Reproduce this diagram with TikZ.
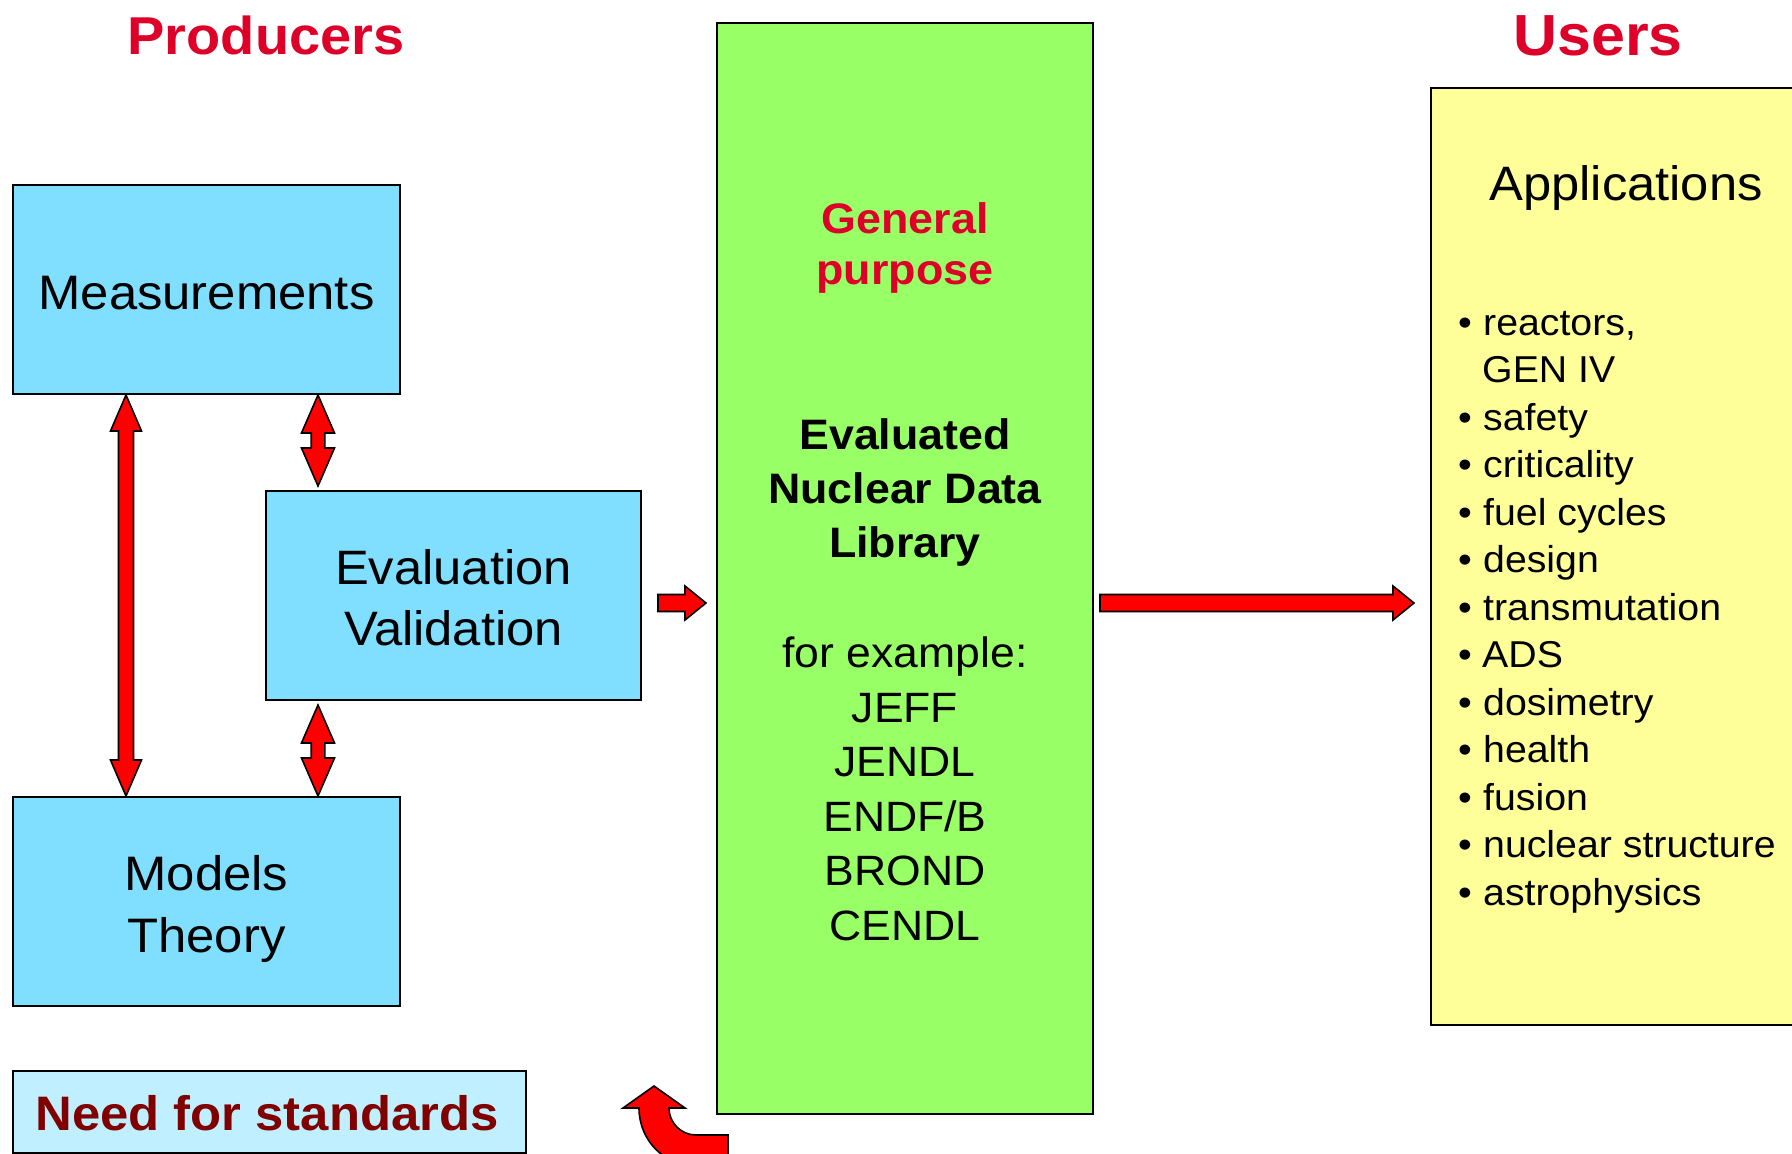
\documentclass[tikz,border=0pt]{standalone}
\usepackage{fontspec}
\setmainfont{Liberation Sans}[FakeStretch=1.05]
\usetikzlibrary{calc}
\definecolor{boxblue}{RGB}{128,223,255}
\definecolor{libgreen}{RGB}{153,255,102}
\definecolor{appyellow}{RGB}{255,255,153}
\definecolor{stdblue}{RGB}{192,239,255}
\definecolor{titlered}{RGB}{221,0,41}
\definecolor{stddark}{RGB}{128,0,0}
\newcommand\myfs[2]{\fontsize{#1}{#2}\selectfont}
% vertical double block arrow: top tip, bottom tip, shaft half, head half, head length
\newcommand\blockV[5]{%
  \path[blockarrow] let \p1=(#1), \p2=(#2) in
  (\x1,\y1) -- (\x1+#4pt,\y1-#5pt) -- (\x1+#3pt,\y1-#5pt) -- (\x1+#3pt,\y2+#5pt)
  -- (\x1+#4pt,\y2+#5pt) -- (\x1,\y2) -- (\x1-#4pt,\y2+#5pt) -- (\x1-#3pt,\y2+#5pt)
  -- (\x1-#3pt,\y1-#5pt) -- (\x1-#4pt,\y1-#5pt) -- cycle;}
% horizontal single block arrow: tail, tip, shaft half, head half, head length
\newcommand\blockH[5]{%
  \path[blockarrow] let \p1=(#1), \p2=(#2) in
  (\x1,\y1+#3pt) -- (\x2-#5pt,\y1+#3pt) -- (\x2-#5pt,\y1+#4pt) -- (\x2,\y1)
  -- (\x2-#5pt,\y1-#4pt) -- (\x2-#5pt,\y1-#3pt) -- (\x1,\y1-#3pt) -- cycle;}
\begin{document}
\begin{tikzpicture}[x=1pt,y=-1pt,
  box/.style={draw=black, line width=2pt, inner sep=0pt, align=center},
  boxtext/.style={inner sep=0pt, align=center},
  blockarrow/.style={fill=red, draw=black, line width=1.6pt, line join=miter},
  txt/.style={inner sep=0pt, anchor=base},
  item/.style={inner sep=0pt, anchor=base west, font=\myfs{37.4}{47.5}}]
\useasboundingbox (0,0) rectangle (1792,1154);
\clip (0,0) rectangle (1792,1154);
\fill[white] (0,0) rectangle (1792,1154);

% titles
\node[txt, font=\myfs{53.3}{60}\bfseries, text=titlered] (prod) at (266,54) {Producers};
\node[txt, font=\myfs{58}{64}\bfseries, text=titlered] (users) at (1598,55) {Users};

% producer boxes
\node[box, fill=boxblue, minimum width=387pt, minimum height=209pt] (meas) at (206.5,289.5) {};
\node[boxtext, font=\myfs{48.4}{60}] (meast) at ($(meas.center)+(0,3.5)$) {Measurements};
\node[box, fill=boxblue, minimum width=375pt, minimum height=209pt] (eval) at (453.5,595.5) {};
\node[boxtext, font=\myfs{48.3}{60.6}] (evalt) at ($(eval.center)+(0,2.5)$) {Evaluation\\Validation};
\node[box, fill=boxblue, minimum width=387pt, minimum height=209pt] (models) at (206.5,901.5) {};
\node[boxtext, font=\myfs{48.4}{62}] (modelst) at ($(models.center)+(0,7)$) {Models\\Theory};
\node[box, fill=stdblue, minimum width=513pt, minimum height=82pt] (std) at (269.5,1112) {};
\node[txt, font=\myfs{48.4}{58}\bfseries, text=stddark] (stdtxt) at (267,1130) {Need for standards};

% library box
\node[box, fill=libgreen, minimum width=376pt, minimum height=1091pt] (lib) at (905,568.5) {};
\node[txt, font=\myfs{42.7}{50}\bfseries, text=titlered] (g1) at (905,233) {General};
\node[txt, font=\myfs{42.7}{50}\bfseries, text=titlered] (g2) at (905,284) {purpose};
\node[txt, font=\myfs{42.6}{54}\bfseries] (e1) at (905,449) {Evaluated};
\node[txt, font=\myfs{42.6}{54}\bfseries] (e2) at (905,503) {Nuclear Data};
\node[txt, font=\myfs{42.6}{54}\bfseries] (e3) at (905,557) {Library};
\node[txt, font=\myfs{42.4}{54}] (x1) at (905,667) {for example:};
\node[txt, font=\myfs{42.4}{54}] (x2) at (905,722) {JEFF};
\node[txt, font=\myfs{42.4}{54}] (x3) at (905,776.5) {JENDL};
\node[txt, font=\myfs{42.4}{54}] (x4) at (905,831) {ENDF/B};
\node[txt, font=\myfs{42.4}{54}] (x5) at (905,885.5) {BROND};
\node[txt, font=\myfs{42.4}{54}] (x6) at (905,940) {CENDL};

% applications box
\node[box, fill=appyellow, minimum width=379pt, minimum height=937pt] (apps) at (1620.5,556.5) {};
\node[txt, font=\myfs{48.3}{58}] (appt) at (1626,200) {Applications};
\node[item] (i1) at (1458,335) {\makebox[25pt][l]{•}reactors,};
\node[item] (i2) at (1458,382.5) {\hspace*{24pt}GEN IV};
\node[item] (i3) at (1458,430) {\makebox[25pt][l]{•}safety};
\node[item] (i4) at (1458,477.5) {\makebox[25pt][l]{•}criticality};
\node[item] (i5) at (1458,525) {\makebox[25pt][l]{•}fuel cycles};
\node[item] (i6) at (1458,572.5) {\makebox[25pt][l]{•}design};
\node[item] (i7) at (1458,620) {\makebox[25pt][l]{•}transmutation};
\node[item] (i8) at (1458,667.5) {\makebox[24pt][l]{•}ADS};
\node[item] (i9) at (1458,715) {\makebox[25pt][l]{•}dosimetry};
\node[item] (i10) at (1458,762.5) {\makebox[25pt][l]{•}health};
\node[item] (i11) at (1458,810) {\makebox[25pt][l]{•}fusion};
\node[item] (i12) at (1458,857.5) {\makebox[25pt][l]{•}nuclear structure};
\node[item] (i13) at (1458,905) {\makebox[25pt][l]{•}astrophysics};

% connector anchor points
\coordinate (a1t) at ($(meas.south west)+(114,0)$);
\coordinate (a1b) at ($(models.north west)+(114,0)$);
\coordinate (a2t) at ($(meas.south west)+(306,0)$);
\coordinate (a2b) at ($(eval.north west)+(53,-4)$);
\coordinate (a3t) at ($(eval.south west)+(53,4)$);
\coordinate (a3b) at ($(models.north west)+(306,0)$);
\coordinate (h1s) at ($(eval.east)+(16,7.5)$);
\coordinate (h1e) at ($(lib.west)+(-10,34.5)$);
\coordinate (h2s) at ($(lib.east)+(6,34.5)$);
\coordinate (h2e) at ($(apps.west)+(-16,46.5)$);

% arrows
\blockV{a1t}{a1b}{7.5}{15.5}{36}
\blockV{a2t}{a2b}{6.8}{16.5}{38}
\blockV{a3t}{a3b}{6.8}{16.5}{38}
\blockH{h1s}{h1e}{8.5}{17}{21}
\blockH{h2s}{h2e}{8.5}{17}{21}

% curved arrow near the library
\path[blockarrow] (654,1086) -- (685,1108) -- (669,1108)
  .. controls (669,1122.9) and (681.1,1135) .. (696,1135) -- (728,1135) -- (728,1166)
  -- (696,1166) .. controls (664,1166) and (639,1140) .. (639,1108) -- (623,1108) -- cycle;
\end{tikzpicture}
\end{document}
